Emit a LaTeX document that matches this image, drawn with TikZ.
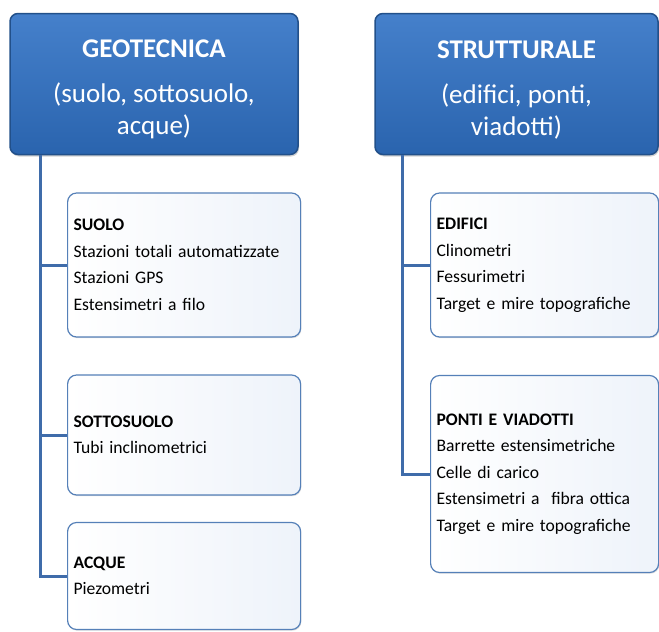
\documentclass[tikz,border=0pt]{standalone}
\usepackage{fontspec}
\setmainfont{Carlito}
\usetikzlibrary{shadows}
\definecolor{hdrtop}{HTML}{4580CB}
\definecolor{hdrbot}{HTML}{2A64AE}
\definecolor{hdredge}{HTML}{22508A}
\definecolor{linecol}{HTML}{3F6CAA}
\definecolor{boxedge}{HTML}{5580B8}
\definecolor{boxfill}{HTML}{EEF3FA}
\tikzset{
  header/.style={rounded corners=8pt, draw=hdredge, line width=1.5pt,
    top color=hdrtop, bottom color=hdrbot, text=white, align=center,
    minimum height=141pt, inner sep=0pt,
    drop shadow={shadow xshift=1pt, shadow yshift=-2pt, opacity=0.35},
    font=\fontsize{27}{32}\selectfont},
  itembox/.style={rounded corners=9pt, draw=boxedge, line width=1.2pt,
    left color=white, right color=boxfill, align=left, anchor=west,
    inner xsep=6pt, inner ysep=0pt,
    drop shadow={shadow xshift=0.8pt, shadow yshift=-1.2pt, opacity=0.25},
    font=\fontsize{17.6}{26.5}\selectfont},
  conn/.style={draw=linecol, line width=3pt}
}
\begin{document}
\begin{tikzpicture}[x=1pt,y=-1pt]
\useasboundingbox[fill=white] (0,0) rectangle (659,632);
% headers
\node[header, minimum width=288pt] (geo) at (154,84)
  {\rule{0pt}{29pt}\textbf{GEOTECNICA}\\[13pt](suolo, sottosuolo,\\acque)};
\node[header, minimum width=283pt] (str) at (516.5,84)
  {\rule{0pt}{29pt}\textbf{STRUTTURALE}\\[13pt](edifici, ponti,\\viadotti)};
% left boxes
\node[itembox, text width=221pt, minimum height=144pt] (suolo) at (67,265)
  {\textbf{SUOLO}\\Stazioni totali automatizzate\\Stazioni GPS\\Estensimetri a filo};
\node[itembox, text width=221pt, minimum height=120pt] (sotto) at (67,435)
  {\textbf{SOTTOSUOLO}\\Tubi inclinometrici};
\node[itembox, text width=221pt, minimum height=107pt] (acque) at (67,576)
  {\textbf{ACQUE}\\Piezometri};
% right boxes
\node[itembox, text width=216pt, minimum height=144pt] (edif) at (430,265)
  {\textbf{EDIFICI}\\Clinometri\\Fessurimetri\\Target e mire topografiche};
\node[itembox, text width=216pt, minimum height=197pt] (ponti) at (430,474)
  {\textbf{PONTI E VIADOTTI}\\Barrette estensimetriche\\Celle di carico\\Estensimetri a\ \ fibra ottica\\Target e mire topografiche};
% trunks
\coordinate (lt) at (40,0);
\coordinate (rt) at (402,0);
\draw[conn] (geo.south -| lt) |- (acque.west);
\draw[conn] (suolo.west -| lt) -- (suolo.west);
\draw[conn] (sotto.west -| lt) -- (sotto.west);
\draw[conn] (str.south -| rt) |- (ponti.west);
\draw[conn] (edif.west -| rt) -- (edif.west);
\end{tikzpicture}
\end{document}
